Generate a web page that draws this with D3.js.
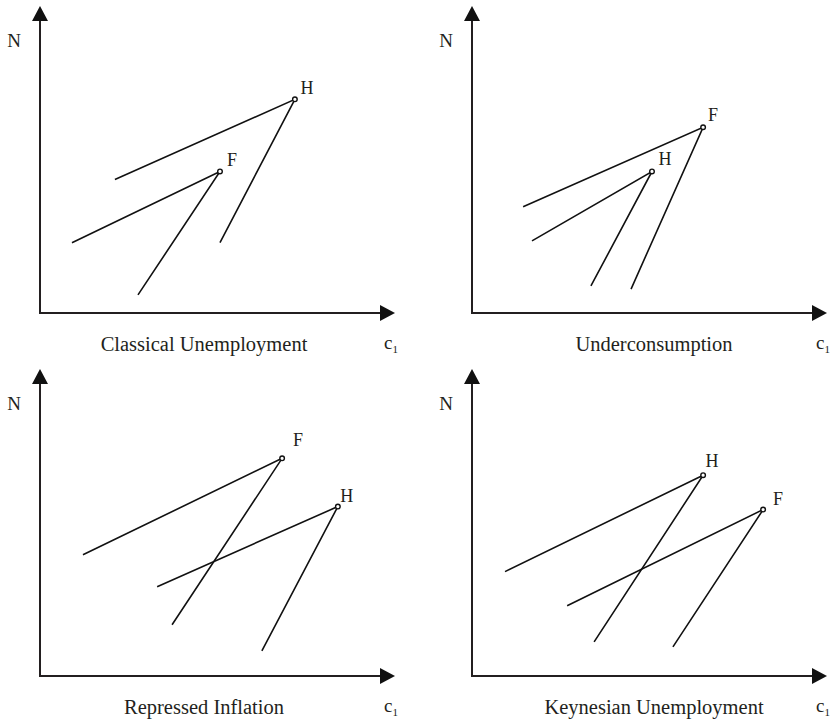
<!DOCTYPE html>
<html>
  <head>
    <meta charset="utf-8">
    <script src="https://d3js.org/d3.v7.min.js"></script>
    <title>Regimes</title>
    <style>
      body { margin: 0; background: #fff; }
      text { font-family: "Liberation Serif", "Times New Roman", serif; fill: #231f20; }
    </style>
  </head>
  <body>
    <div id="svg_id"></div>
  </body>
  <script>

    // DATA  (units: 0..100 along each axis)
    // row: [label, vertexX, vertexY, upperEndX, upperEndY, lowerEndX, lowerEndY]
    const titles = ['Classical Unemployment', 'Underconsumption', 'Repressed Inflation', 'Keynesian Unemployment'];

    const classical = [
      ['H', 71.8, 69.6, 21.1, 43.5, 50.7, 22.9],
      ['F', 50.7, 46.1,  9.0, 22.9, 27.6,  5.9]
    ];
    const underconsumption = [
      ['F', 65.1, 60.5, 14.4, 34.6, 44.8,  7.8],
      ['H', 50.7, 46.1, 16.9, 23.5, 33.5,  8.8]
    ];
    const repressed = [
      ['F', 68.2, 70.9, 12.1, 39.5, 37.2, 16.7],
      ['H', 83.9, 55.2, 33.0, 29.1, 62.5,  8.2]
    ];
    const keynesian = [
      ['H', 65.1, 65.4,  9.3, 34.0, 34.4, 11.1],
      ['F', 82.0, 54.2, 26.8, 22.9, 56.6,  9.5]
    ];
    const panelData = [classical, underconsumption, repressed, keynesian];

    // LAYOUT
    const w = 838, h = 722;
    const origins = [[40, 313], [472, 313], [40, 676], [472, 676]];
    const titleX = [204, 654, 204, 654];
    const axisLenX = 355, axisLenY = 307;
    const head = 15, halfHead = 8;
    // label offsets from the vertex, [dx, dy] per curve
    const labelOff = [
      [[12, -5], [12, -5]],
      [[10, -6], [13, -6]],
      [[16, -12], [9, -5]],
      [[9, -8], [15, -5]]
    ];

    var svg = d3.select('div#svg_id')
      .append('svg')
      .attr('width', w)
      .attr('height', h);

    panelData.forEach(function(curves, i) {
      var ox = origins[i][0], oy = origins[i][1];
      var x = d3.scaleLinear().domain([0, 100]).range([ox, ox + axisLenX]);
      var y = d3.scaleLinear().domain([0, 100]).range([oy, oy - axisLenY]);
      var g = svg.append('g');

      // axes with arrowheads
      g.append('line')
        .attr('x1', x(0)).attr('y1', y(0))
        .attr('x2', x(100) - head).attr('y2', y(0))
        .attr('stroke', '#231f20').attr('stroke-width', 2);
      g.append('line')
        .attr('x1', x(0)).attr('y1', y(0) + 1)
        .attr('x2', x(0)).attr('y2', y(100) + head)
        .attr('stroke', '#231f20').attr('stroke-width', 2);
      g.append('polygon')
        .attr('points', [[x(100), y(0)], [x(100) - head, y(0) - halfHead], [x(100) - head, y(0) + halfHead]].join(' '))
        .attr('fill', '#111');
      g.append('polygon')
        .attr('points', [[x(0), y(100)], [x(0) - halfHead, y(100) + head], [x(0) + halfHead, y(100) + head]].join(' '))
        .attr('fill', '#111');

      // axis labels
      g.append('text')
        .attr('x', x(0) - 26).attr('y', y(100) + 41)
        .attr('text-anchor', 'middle')
        .attr('font-size', 19)
        .text('N');
      var c1 = g.append('text')
        .attr('x', x(100) - 4).attr('y', y(0) + 36)
        .attr('text-anchor', 'middle')
        .attr('font-size', 19);
      c1.append('tspan').text('c');
      c1.append('tspan').attr('font-size', 11).attr('dy', 4).text('1');

      // title
      g.append('text')
        .attr('x', titleX[i]).attr('y', y(0) + 38)
        .attr('text-anchor', 'middle')
        .attr('font-size', 20.5)
        .text(titles[i]);

      // the two kinked curves
      g.selectAll('path.curve')
        .data(curves)
        .enter()
        .append('path')
        .attr('class', 'curve')
        .attr('d', d => d3.line()([[x(d[3]), y(d[4])], [x(d[1]), y(d[2])], [x(d[5]), y(d[6])]]))
        .attr('fill', 'none')
        .attr('stroke', '#111')
        .attr('stroke-width', 1.6);

      g.selectAll('circle.vertex')
        .data(curves)
        .enter()
        .append('circle')
        .attr('class', 'vertex')
        .attr('cx', d => x(d[1]))
        .attr('cy', d => y(d[2]))
        .attr('r', 2.3)
        .attr('fill', '#fff')
        .attr('stroke', '#111')
        .attr('stroke-width', 1.4);

      g.selectAll('text.vlabel')
        .data(curves)
        .enter()
        .append('text')
        .attr('class', 'vlabel')
        .attr('x', (d, j) => x(d[1]) + labelOff[i][j][0])
        .attr('y', (d, j) => y(d[2]) + labelOff[i][j][1])
        .attr('text-anchor', 'middle')
        .attr('font-size', 18)
        .text(d => d[0]);
    });

  </script>
</html>
